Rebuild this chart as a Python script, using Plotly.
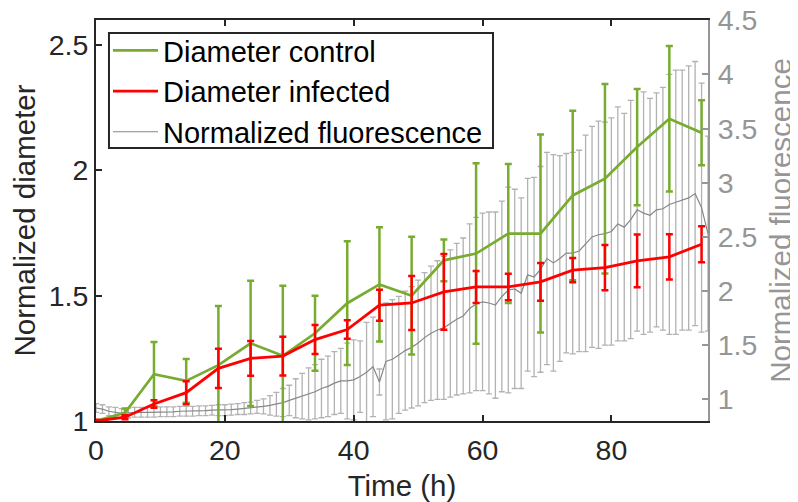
import plotly.graph_objects as go

# ---------------- data ----------------
t_diam = [0, 4.5, 9, 14, 19, 24, 29, 34, 39, 44, 49, 54, 59, 64, 69, 74, 79, 84, 89, 94]
ctrl = [1.0, 1.033, 1.187, 1.16, 1.223, 1.31, 1.26, 1.35, 1.47, 1.545, 1.50, 1.641,
        1.668, 1.748, 1.748, 1.90, 1.967, 2.093, 2.206, 2.15]
ctrl_err = [0.0, 0.017, 0.128, 0.087, 0.236, 0.25, 0.28, 0.15, 0.247, 0.228, 0.235, 0.083,
            0.36, 0.277, 0.395, 0.338, 0.378, 0.232, 0.29, 0.13]
infected = [1.0, 1.015, 1.068, 1.113, 1.21, 1.25, 1.259, 1.325, 1.365, 1.462, 1.471, 1.515,
            1.535, 1.535, 1.555, 1.602, 1.612, 1.639, 1.655, 1.705]
infected_err = [0.005, 0.008, 0.015, 0.046, 0.078, 0.069, 0.077, 0.058, 0.037, 0.062, 0.108,
                0.151, 0.064, 0.053, 0.075, 0.048, 0.09, 0.105, 0.09, 0.072]

t_fluo = list(range(0, 96))
fluo = [0.92, 0.91, 0.89, 0.88, 0.87, 0.875, 0.88, 0.88, 0.88, 0.88,
        0.885, 0.885, 0.885, 0.89, 0.89, 0.89, 0.895, 0.895, 0.90, 0.90,
        0.90, 0.905, 0.91, 0.915, 0.92, 0.93, 0.935, 0.945, 0.955, 0.97,
        0.99, 1.01, 1.03, 1.05, 1.07, 1.10, 1.12, 1.15, 1.17, 1.17,
        1.18, 1.21, 1.25, 1.30, 1.16, 1.35, 1.37, 1.41, 1.45, 1.48,
        1.52, 1.57, 1.61, 1.64, 1.66, 1.70, 1.74, 1.77, 1.84, 1.88,
        1.90, 1.89, 1.87, 1.95, 2.01, 2.02, 1.98, 2.15, 2.13, 2.20,
        2.30, 2.26, 2.30, 2.35, 2.35, 2.37, 2.44, 2.50, 2.52, 2.53,
        2.55, 2.62, 2.59, 2.66, 2.75, 2.72, 2.70, 2.75, 2.76, 2.80,
        2.82, 2.84, 2.86, 2.90, 2.77, 2.53]
fluo_err = [0.04, 0.04, 0.04, 0.045, 0.045, 0.045, 0.045, 0.045, 0.045, 0.045,
            0.045, 0.045, 0.045, 0.045, 0.045, 0.045, 0.045, 0.045, 0.045, 0.05,
            0.05, 0.05, 0.05, 0.055, 0.055, 0.06, 0.07, 0.09, 0.11, 0.13,
            0.14, 0.18, 0.21, 0.24, 0.25, 0.27, 0.28, 0.29, 0.30, 0.35,
            0.37, 0.33, 0.46, 0.46, 0.12, 0.54, 0.55, 0.54, 0.55, 0.56,
            0.58, 0.60, 0.62, 0.64, 0.66, 0.68, 0.70, 0.72, 0.78, 0.80,
            0.82, 0.84, 0.86, 0.88, 0.95, 0.92, 0.88, 0.89, 0.92, 0.95,
            0.98, 1.00, 0.95, 0.92, 0.93, 0.93, 1.00, 1.02, 1.05, 1.03,
            1.05, 1.08, 1.05, 1.10, 1.12, 1.12, 1.08, 1.08, 1.12, 1.20,
            1.22, 1.20, 1.22, 1.22, 1.15, 0.90]

x_ticks = [0, 20, 40, 60, 80]
left_ticks = [1, 1.5, 2, 2.5]
left_tick_text = ["1", "1.5", "2", "2.5"]
right_ticks = [1, 1.5, 2, 2.5, 3, 3.5, 4, 4.5]
right_tick_text = ["1", "1.5", "2", "2.5", "3", "3.5", "4", "4.5"]

# ---------------- styling ----------------
FONT = "Liberation Sans, Arial, Helvetica, sans-serif"
DARK = "#262626"
GREEN = "#77AC30"
RED = "#FF0000"
GRAY_AX = "rgb(150,150,150)"
FS_TICK = 28.5
FS_TITLE = 29.5
FS_LEG = 29

fig = go.Figure()

fig.add_trace(go.Scatter(
    x=t_diam, y=ctrl, name="Diameter control", mode="lines",
    line=dict(color=GREEN, width=2.7),
    error_y=dict(type="data", array=ctrl_err, visible=True, color=GREEN,
                 thickness=2.5, width=3.5),
    xaxis="x", yaxis="y2"))

fig.add_trace(go.Scatter(
    x=t_diam, y=infected, name="Diameter infected", mode="lines",
    line=dict(color=RED, width=2.8),
    error_y=dict(type="data", array=infected_err, visible=True, color=RED,
                 thickness=2.5, width=3.5),
    xaxis="x", yaxis="y2"))

fig.add_trace(go.Scatter(
    x=t_fluo, y=fluo, name="Normalized fluorescence", mode="lines",
    line=dict(color="rgb(135,135,135)", width=1.2),
    error_y=dict(type="data", array=fluo_err, visible=True, color="rgb(178,178,178)",
                 thickness=1.3, width=3),
    xaxis="x", yaxis="y"))

# legend frame (drawn as a layout shape so the box matches the original)
fig.add_shape(type="rect", xref="paper", yref="paper",
              x0=0.0212, x1=0.6487, y0=0.681, y1=0.9676,
              fillcolor="white", line=dict(color=DARK, width=2), layer="above")

# the page places the figure 8 px in from the top-left corner, so the
# figure is 790x494 with margins measured from that corner
fig.update_layout(
    width=790, height=494,
    margin=dict(l=88, r=90, t=12, b=81),
    paper_bgcolor="white", plot_bgcolor="white",
    font=dict(family=FONT, size=FS_TICK, color=DARK),
    showlegend=True,
    legend=dict(x=0.0196, y=0.9875, xanchor="left", yanchor="top",
                bgcolor="rgba(0,0,0,0)", borderwidth=0,
                font=dict(family=FONT, size=FS_LEG, color="black"),
                tracegroupgap=0, itemwidth=45),
    xaxis=dict(range=[0, 95], tickvals=x_ticks, ticktext=[str(v) for v in x_ticks],
               ticks="inside", ticklen=6, tickwidth=2, tickcolor=DARK,
               showline=True, linecolor=DARK, linewidth=2, mirror="ticks",
               showgrid=False, zeroline=False, automargin=False,
               ticklabelstandoff=3, ticklabeloverflow="allow",
               tickfont=dict(size=FS_TICK, color=DARK),
               title=dict(text="Time (h)", font=dict(size=FS_TITLE, color=DARK), standoff=10)),
    yaxis=dict(range=[0.8, 4.503], tickvals=right_ticks, ticktext=right_tick_text,
               side="right", ticks="inside", ticklen=6, tickwidth=2, tickcolor=GRAY_AX,
               showline=True, linecolor=GRAY_AX, linewidth=2,
               showgrid=False, zeroline=False, automargin=False,
               ticklabelstandoff=2, ticklabeloverflow="allow",
               tickfont=dict(size=FS_TICK, color=GRAY_AX),
               title=dict(text="Normalized fluorescence", font=dict(size=FS_TITLE, color=GRAY_AX),
                          standoff=14)),
    yaxis2=dict(range=[1, 2.6], tickvals=left_ticks, ticktext=left_tick_text,
                side="left", overlaying="y", anchor="x",
                ticks="inside", ticklen=6, tickwidth=2, tickcolor=DARK,
                showline=True, linecolor=DARK, linewidth=2,
                showgrid=False, zeroline=False, automargin=False,
                ticklabeloverflow="allow",
                tickfont=dict(size=FS_TICK, color=DARK),
                title=dict(text="Normalized diameter", font=dict(size=FS_TITLE, color=DARK),
                           standoff=10)),
)

fig.write_html("out.html")
